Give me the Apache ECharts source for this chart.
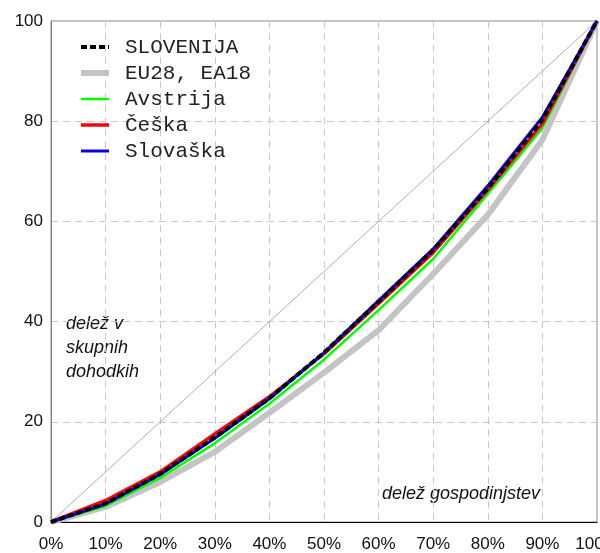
<!DOCTYPE html>
<html>
<head>
<meta charset="utf-8">
<script src="https://cdn.jsdelivr.net/npm/echarts@6/dist/echarts.min.js"></script>
<style>html,body{margin:0;padding:0;background:#fff;}#c{width:600px;height:553px;}</style>
</head>
<body>
<div id="c"></div>
<script>
const xShares = [0, 10, 20, 30, 40, 50, 60, 70, 80, 90, 100];
const xTickLabels = ['0%','10%','20%','30%','40%','50%','60%','70%','80%','90%','100%'];
const yTicks = [0, 20, 40, 60, 80, 100];
const equality = [0, 10, 20, 30, 40, 50, 60, 70, 80, 90, 100];
const slovenija = [0, 3.7, 9.6, 16.9, 24.7, 33.8, 44.0, 54.3, 66.6, 80.3, 100];
const eu28 = [0, 3.0, 8.0, 14.0, 21.8, 29.8, 38.3, 49.5, 61.3, 76.3, 100];
const avstrija = [0, 3.2, 8.8, 15.7, 23.6, 32.4, 42.3, 52.5, 65.5, 78.6, 100];
const ceska = [0, 4.3, 10.0, 17.6, 25.0, 33.6, 43.6, 53.8, 66.3, 79.5, 100];
const slovaska = [0, 3.6, 9.5, 16.7, 24.6, 33.8, 44.2, 54.5, 67.1, 80.8, 100];
const names = ['SLOVENIJA', 'EU28, EA18', 'Avstrija', 'Češka', 'Slovaška'];

const pairs = arr => xShares.map((x, i) => [x, arr[i]]);
const chart = echarts.init(document.getElementById('c'));
const labelFont = {fontFamily: 'Liberation Sans, Arial', fontSize: 17, color: '#111'};
const styles = [
  {color: '#000', width: 4, type: [6, 3]},
  {color: '#c4c4c4', width: 6, type: 'solid'},
  {color: '#00ff00', width: 2.5, type: 'solid'},
  {color: '#ff0000', width: 3.5, type: 'solid'},
  {color: '#0000ff', width: 3, type: 'solid'}
];
chart.setOption({
  animation: false,
  grid: {left: 51, right: 3, top: 21, bottom: 31, show: true, borderColor: '#888', borderWidth: 1, outerBoundsMode: 'none', containLabel: false},
  xAxis: {
    type: 'value', min: 0, max: 100, interval: 10,
    axisLine: {lineStyle: {color: '#000', width: 1}},
    axisTick: {show: false},
    axisLabel: Object.assign({margin: 14, formatter: v => xTickLabels[xShares.indexOf(v)] || ''}, labelFont),
    splitLine: {show: true, lineStyle: {color: '#c8c8c8', type: [7, 5], width: 1}}
  },
  yAxis: {
    type: 'value', min: 0, max: 100, interval: 20,
    axisLine: {show: true, lineStyle: {color: '#808080', width: 1}},
    axisTick: {show: false},
    axisLabel: Object.assign({margin: 8, formatter: v => yTicks.includes(v) ? String(v) : ''}, labelFont),
    splitLine: {show: true, lineStyle: {color: '#c8c8c8', type: [7, 5], width: 1}}
  },
  legend: {
    orient: 'vertical', left: 78, top: 34, itemGap: 0, padding: 0,
    itemWidth: 28, itemHeight: 14,
    itemStyle: {opacity: 0},
    data: names.map((n, i) => ({name: n, lineStyle: {color: styles[i].color, width: styles[i].width, type: styles[i].type}})),
    textStyle: {fontFamily: 'Liberation Mono, Courier New, monospace', fontSize: 21, color: '#222', lineHeight: 26, padding: [0, 0, 0, 11]}
  },
  graphic: [
    {type: 'text', left: 66, top: 312, style: {text: 'delež v\nskupnih\ndohodkih', font: 'italic 18px Liberation Sans, Arial', fill: '#111', lineHeight: 24}},
    {type: 'text', left: 382, top: 485, style: {text: 'delež gospodinjstev', font: 'italic 18px Liberation Sans, Arial', fill: '#111'}}
  ],
  series: [
    {name: 'diag', type: 'line', data: pairs(equality), symbol: 'none', lineStyle: {color: '#999', width: 0.8}, z: 1, silent: true},
    {name: names[1], type: 'line', data: pairs(eu28), symbol: 'none', lineStyle: styles[1], itemStyle: {color: styles[1].color}, z: 2},
    {name: names[2], type: 'line', data: pairs(avstrija), symbol: 'none', lineStyle: styles[2], itemStyle: {color: styles[2].color}, z: 3},
    {name: names[3], type: 'line', data: pairs(ceska), symbol: 'none', lineStyle: styles[3], itemStyle: {color: styles[3].color}, z: 4},
    {name: names[4], type: 'line', data: pairs(slovaska), symbol: 'none', lineStyle: styles[4], itemStyle: {color: styles[4].color}, z: 5},
    {name: names[0], type: 'line', data: pairs(slovenija), symbol: 'none', lineStyle: styles[0], itemStyle: {color: styles[0].color}, z: 6}
  ]
});
</script>
</body>
</html>
